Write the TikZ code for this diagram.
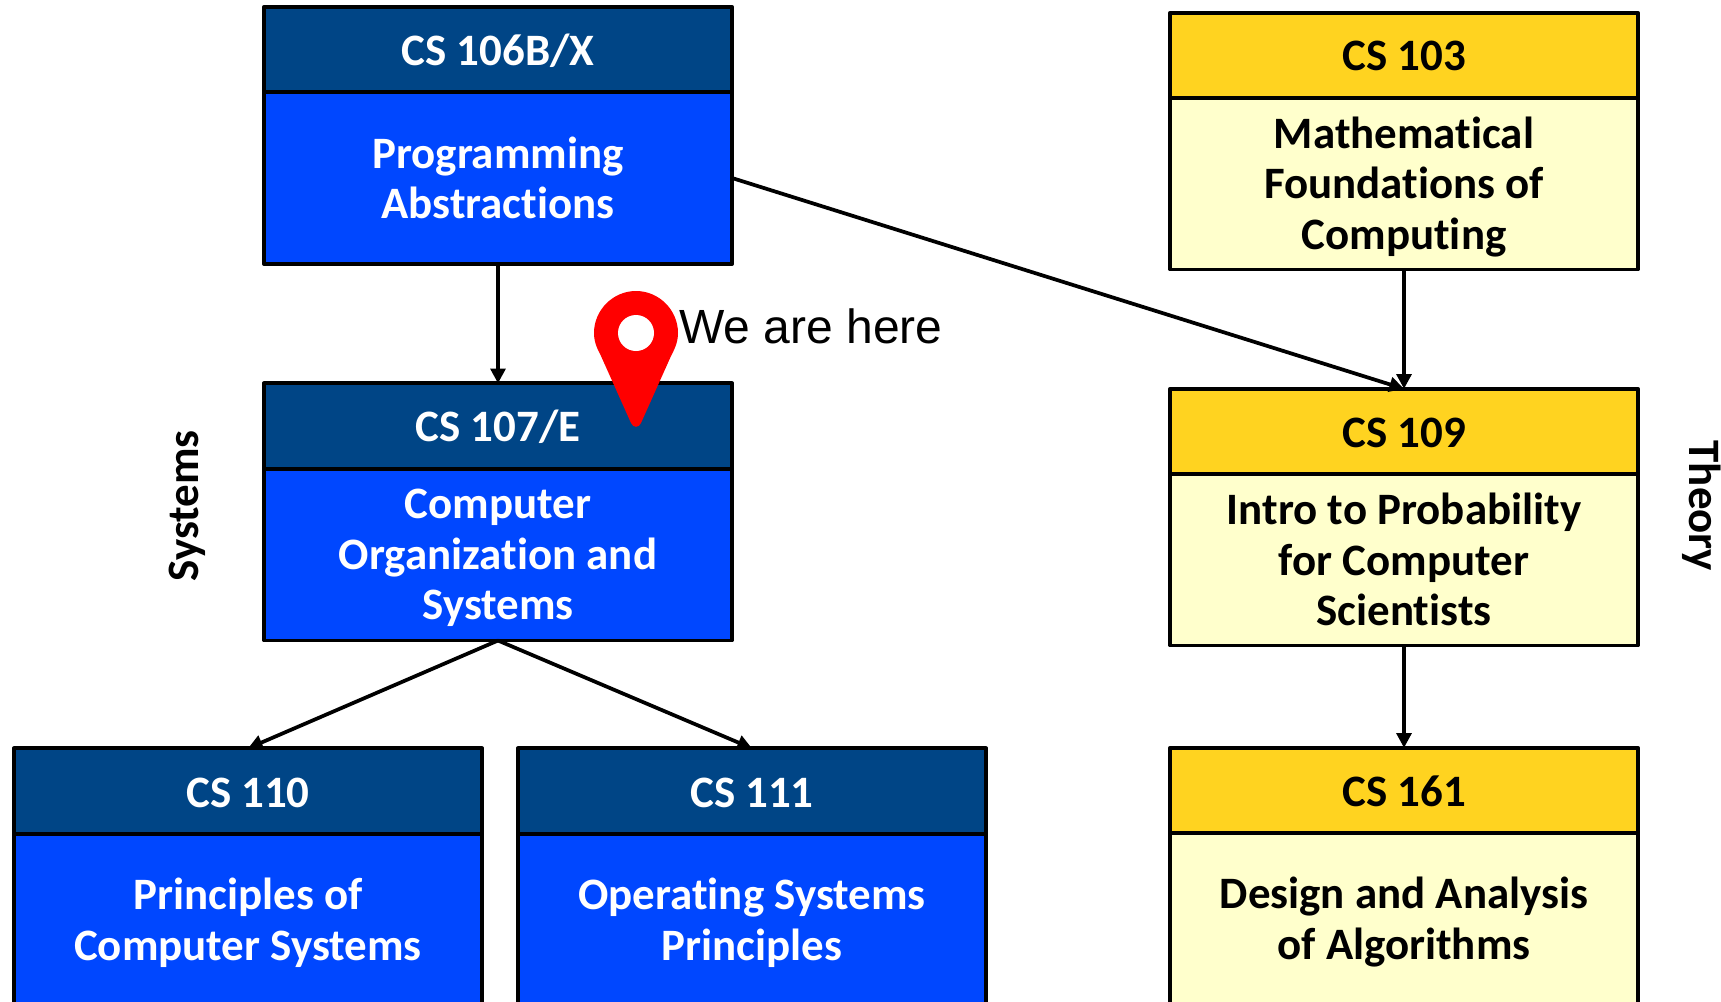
\documentclass[tikz,border=0pt]{standalone}
\usepackage{fontspec}
\setmainfont[Ligatures=CommonOff]{Carlito}
\newfontfamily\arialfont{Liberation Sans}
\usetikzlibrary{arrows.meta}
\definecolor{navyhead}{HTML}{004586}
\definecolor{bluebody}{HTML}{0047FF}
\definecolor{goldhead}{HTML}{FFD320}
\definecolor{paleyellow}{HTML}{FFFFCC}
\tikzset{
  x=0.75pt,y=-0.75pt,
  cell/.style={draw=black,line width=2.9pt,line join=round,outer sep=0pt,inner sep=0pt,minimum width=351pt},
  headcell/.style={cell,minimum height=64pt},
  bodycell/.style={cell,minimum height=129pt},
  sysh/.style={headcell,fill=navyhead},
  sysb/.style={bodycell,fill=bluebody},
  thh/.style={headcell,fill=goldhead},
  thb/.style={bodycell,fill=paleyellow},
  celltext/.style={inner sep=0pt,align=center,font=\bfseries\fontsize{33.7}{37.9}\selectfont},
  wtext/.style={celltext,text=white},
  ktext/.style={celltext,text=black},
  link/.style={draw=black,line width=2.8pt,-{Triangle[width=11pt,length=11pt]}},
  sidelabel/.style={font=\bfseries\fontsize{33.7}{37.9}\selectfont,inner sep=0pt},
}
\begin{document}
\begin{tikzpicture}
\useasboundingbox (0,0) rectangle (1721,1001);
\clip (0,0) rectangle (1721,1001);
\fill[white] (0,0) rectangle (1721,1001);
% systems column
\node[sysb] (b106) at (498,178) {};
\node[sysh] (h106) at (498,49.5) {};
\node[sysb] (b107) at (498,554.5) {};
\node[sysh] (h107) at (498,426) {};
\node[sysb] (b110) at (248,920) {};
\node[sysh] (h110) at (248,791) {};
\node[sysb] (b111) at (752,920) {};
\node[sysh] (h111) at (752,791) {};
% theory column
\node[thb] (b103) at (1404,183.5) {};
\node[thh] (h103) at (1404,55.5) {};
\node[thb] (b109) at (1404,559.5) {};
\node[thh] (h109) at (1404,431.5) {};
\node[thb] (b161) at (1404,919.5) {};
\node[thh] (h161) at (1404,790.5) {};
% cell texts
\node[wtext] (th106) at ([yshift=-0.9pt]h106.center) {CS 106B/X};
\node[wtext] (tb106) at (b106.center) {Programming\\Abstractions};
\node[wtext] (th107) at ([yshift=-0.9pt]h107.center) {CS 107/E};
\node[wtext] (tb107) at ([yshift=-2.5pt]b107.center) {Computer\\Organization and\\Systems};
\node[wtext] (th110) at ([yshift=-1.2pt]h110.center) {CS 110};
\node[wtext] (tb110) at ([yshift=-2pt]b110.center) {Principles of\\Computer Systems};
\node[wtext] (th111) at ([yshift=-1.2pt]h111.center) {CS 111};
\node[wtext] (tb111) at ([yshift=-2pt]b111.center) {Operating Systems\\Principles};
\node[ktext] (th103) at ([yshift=-0.6pt]h103.center) {CS 103};
\node[ktext] (tb103) at ([yshift=-2.5pt]b103.center) {Mathematical\\Foundations of\\Computing};
\node[ktext] (th109) at ([yshift=-0.8pt]h109.center) {CS 109};
\node[ktext] (tb109) at (b109.center) {Intro to Probability\\for Computer\\Scientists};
\node[ktext] (th161) at ([yshift=-0.9pt]h161.center) {CS 161};
\node[ktext] (tb161) at ([yshift=-1.7pt]b161.center) {Design and Analysis\\of Algorithms};
% connectors
\draw[link] (b106.south) -- (h107.north);
\draw[link] (b106.east) -- (h109.north);
\draw[link] (b103.south) -- (h109.north);
\draw[link] (b109.south) -- (h161.north);
\draw[link] (b107.south) -- (h110.north);
\draw[link] (b107.south) -- (h111.north);
% side labels
\node[sidelabel,rotate=90] (systems) at (187,506) {Systems};
\node[sidelabel,rotate=-90] (theory) at (1702,506) {Theory};
% pin
\fill[red] (636,291) .. controls (659,291) and (678,310) .. (678,333)
  .. controls (678,343) and (674,350) .. (671,356) -- (641,423)
  .. controls (639,428) and (633,428) .. (631,423) -- (601,356)
  .. controls (598,350) and (594,343) .. (594,333)
  .. controls (594,310) and (613,291) .. (636,291) -- cycle;
\fill[white] (636,333) circle[radius=13.5pt];
\node[anchor=base west,inner sep=0pt,font=\arialfont\fontsize{36}{40}\selectfont] (here) at (679,343.6) {We are here};
\end{tikzpicture}
\end{document}
